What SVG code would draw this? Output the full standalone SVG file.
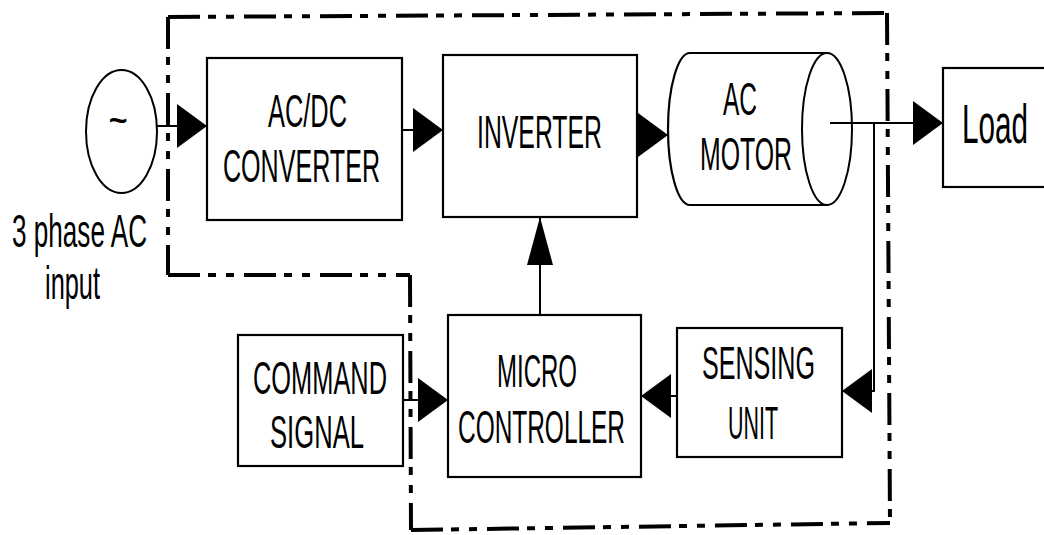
<svg xmlns="http://www.w3.org/2000/svg" width="1044" height="535" viewBox="0 0 1044 535">
<style>
.box{fill:#fff;stroke:#000;stroke-width:2.2}
.shape{fill:none;stroke:#000;stroke-width:2.2}
.con{fill:none;stroke:#000;stroke-width:2}
.bound{fill:none;stroke:#000;stroke-width:4;stroke-dasharray:32 8 8 10 8 10}
.t{font-family:"Liberation Sans",Arial,sans-serif;font-size:46px;fill:#000}
</style>
<defs>
<marker id="arrow" viewBox="0 0 30 44" refX="30" refY="22" markerWidth="30" markerHeight="44" markerUnits="userSpaceOnUse" orient="auto">
<path d="M0,0 L30,22 L0,44 Z" fill="#000"/>
</marker>
<marker id="arrowLong" viewBox="0 0 48 26" refX="48" refY="13" markerWidth="48" markerHeight="26" markerUnits="userSpaceOnUse" orient="auto">
<path d="M0,0 L48,13 L0,26 Z" fill="#000"/>
</marker>
</defs>
<rect x="0" y="0" width="1044" height="535" fill="#fff"/>

<g id="source">
<ellipse cx="121.5" cy="131.5" rx="35.5" ry="61.5" class="shape" style="stroke-width:2"/>
<text x="118" y="131" class="t" style="font-size:32px;font-weight:bold" text-anchor="middle">~</text>
<text x="12" y="247" class="t" textLength="135" lengthAdjust="spacingAndGlyphs">3 phase AC</text>
<text x="45" y="299" class="t" textLength="55" lengthAdjust="spacingAndGlyphs">input</text>
</g>

<g id="acdc">
<rect x="207" y="58" width="195" height="162" class="box"/>
<text x="268" y="127" class="t" textLength="79" lengthAdjust="spacingAndGlyphs">AC/DC</text>
<text x="223" y="182" class="t" textLength="157" lengthAdjust="spacingAndGlyphs">CONVERTER</text>
</g>

<g id="inverter">
<rect x="443" y="55" width="194" height="162" class="box"/>
<text x="477" y="148" class="t" textLength="125" lengthAdjust="spacingAndGlyphs">INVERTER</text>
</g>

<g id="motor">
<path d="M690,53 L827,53 M690,205 L827,205 M690,53 A22,76 0 0 0 690,205" class="shape"/>
<ellipse cx="827" cy="129" rx="25" ry="76" class="shape" style="stroke-width:2"/>
<text x="723" y="115" class="t" textLength="34" lengthAdjust="spacingAndGlyphs">AC</text>
<text x="700" y="170" class="t" textLength="92" lengthAdjust="spacingAndGlyphs">MOTOR</text>
</g>

<g id="load">
<rect x="943" y="68" width="120" height="119" class="box"/>
<text transform="translate(962,143) scale(0.53,1)" class="t" style="font-size:56px">Load</text>
</g>

<g id="command">
<rect x="238" y="335" width="165" height="131" class="box"/>
<text x="253" y="394" class="t" textLength="134" lengthAdjust="spacingAndGlyphs">COMMAND</text>
<text x="270" y="448" class="t" textLength="94" lengthAdjust="spacingAndGlyphs">SIGNAL</text>
</g>

<g id="micro">
<rect x="448" y="315" width="193" height="162" class="box"/>
<text x="497" y="387" class="t" textLength="80" lengthAdjust="spacingAndGlyphs">MICRO</text>
<text x="458" y="443" class="t" textLength="167" lengthAdjust="spacingAndGlyphs">CONTROLLER</text>
</g>

<g id="sensing">
<rect x="677" y="328" width="165" height="129" class="box"/>
<text transform="translate(702,379) scale(0.546,1)" class="t">SENSING</text>
<text transform="translate(728,439) scale(0.466,1)" class="t">UNIT</text>
</g>

<g id="connectors">
<path d="M157,126 L207,126" class="con" marker-end="url(#arrow)"/>
<path d="M402,130 L443,130" class="con" marker-end="url(#arrow)"/>
<path d="M637,135 L668,135" class="con" marker-end="url(#arrow)"/>
<path d="M830,123 L943,123" class="con" marker-end="url(#arrow)"/>
<path d="M874,123 L874,391 L842,391" class="con" marker-end="url(#arrow)"/>
<path d="M677,396 L641,396" class="con" marker-end="url(#arrow)"/>
<path d="M403,400 L448,400" class="con" marker-end="url(#arrow)"/>
<path d="M540,315 L540,217" class="con" marker-end="url(#arrowLong)"/>
</g>

<g id="boundary">
<path d="M168,17 L887,13" class="bound"/>
<path d="M168,17 L168,275" class="bound"/>
<path d="M168,275 L410,275" class="bound"/>
<path d="M410,275 L411,530" class="bound"/>
<path d="M411,530 L890,523" class="bound"/>
<path d="M887,13 L890,523" class="bound"/>
</g>
</svg>
